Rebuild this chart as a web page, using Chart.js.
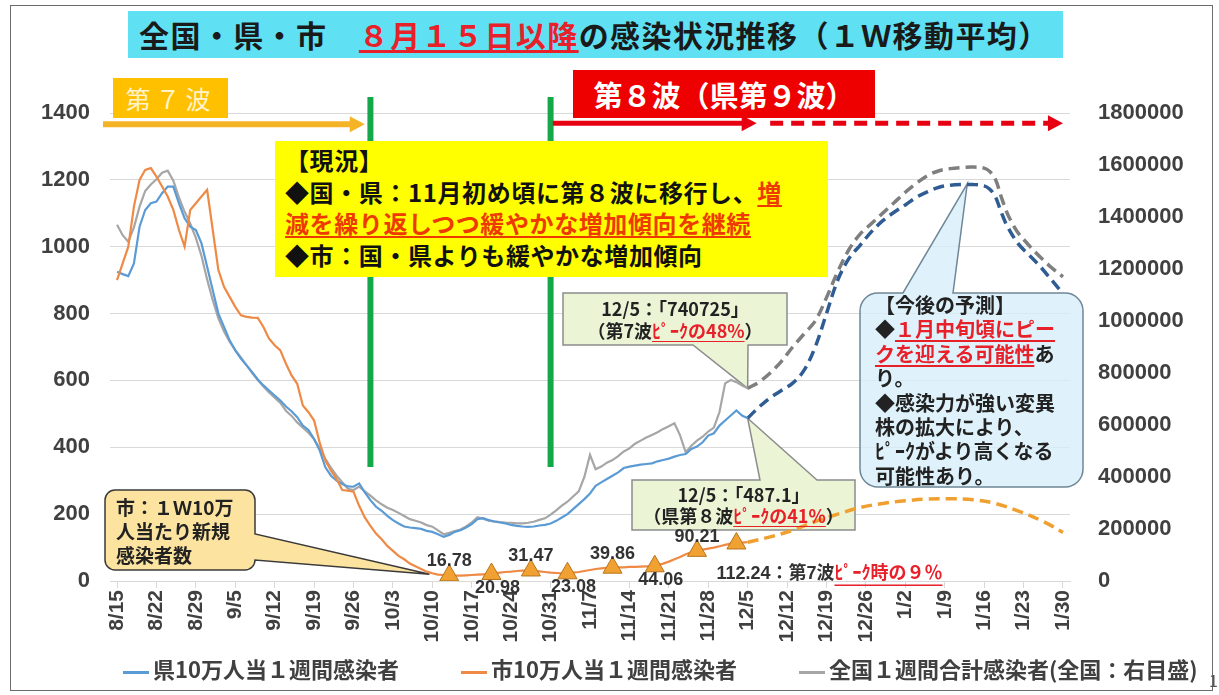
<!DOCTYPE html>
<html lang="ja">
<head>
<meta charset="utf-8">
<title>感染状況推移</title>
<script src="https://cdn.jsdelivr.net/npm/chart.js@4.4.1/dist/chart.umd.min.js"></script>
<style>
  body { margin: 0; background: #fff; }
  #wrap { position: relative; width: 1219px; height: 695px; overflow: hidden;
          font-family: "Noto Sans CJK JP", "Noto Sans", sans-serif; }
  #c { position: absolute; left: 0; top: 0; }
  .abs { position: absolute; box-sizing: border-box; }
  .red { color: #e8202a; text-decoration: underline; text-underline-offset: 3px; }
  .frame { left: 10px; top: 5px; width: 1203px; height: 686px; border: 1.5px solid #6b6b6b; }
  .title { left: 128px; top: 11px; width: 935px; height: 47px; background: #5fe1f3;
           font-size: 30px; font-weight: 700; line-height: 47px; padding-left: 11px; color: #1a1a1a;
           letter-spacing: 1.4px; white-space: nowrap; }
  .wave7 { left: 113px; top: 78px; width: 115px; height: 40px; background: #ffc000; color: #fff4cc;
           font-size: 25px; line-height: 40px; text-align: center; letter-spacing: 5px; }
  .wave8 { left: 573px; top: 70px; width: 302px; height: 48px; background: #ee0000; color: #fff;
           font-size: 29px; font-weight: 700; line-height: 48px; text-align: center; white-space: nowrap; }
  .now { left: 275px; top: 141px; width: 553px; height: 136px; background: #ffff00; color: #111;
         font-size: 24px; font-weight: 700; line-height: 31.5px; padding: 3px 0 0 10px; white-space: nowrap;
         letter-spacing: 0.6px; }
  .now .red { color: #ee3a00; }
  .txt { font-weight: 700; color: #222; white-space: nowrap; }
  .lg { top: 654px; font-size: 22px; font-weight: 700; color: #404040; line-height: 28px; white-space: nowrap; }
  .lg i { display: inline-block; width: 26px; height: 3px; vertical-align: middle; margin-right: 4px; }
</style>
</head>
<body>
<div id="wrap">
  <canvas id="c" width="1219" height="695"></canvas>
  <div class="abs frame"></div>
  <div class="abs title">全国・県・市　<span class="red">８月１５日以降</span>の感染状況推移（１Ｗ移動平均）</div>
  <div class="abs wave7">第７波</div>
  <div class="abs wave8">第８波（県第９波）</div>
  <div class="abs now">【現況】<br>◆国・県：11月初め頃に第８波に移行し、<span class="red">増</span><br><span class="red">減を繰り返しつつ緩やかな増加傾向を継続</span><br>◆市：国・県よりも緩やかな増加傾向</div>
  <div class="abs txt" id="t740">12/5：「740725」<br>（第7波<span class="red">ﾋﾟｰｸの48%</span>）</div>
  <div class="abs txt" id="t487">12/5：「487.1」<br>（県第８波<span class="red">ﾋﾟｰｸの41%</span>）</div>
  <div class="abs txt" id="tCity">市：１Ｗ10万<br>人当たり新規<br>感染者数</div>
  <div class="abs txt" id="tFore">【今後の予測】<br>◆<span class="red">１月中旬頃にピー</span><br><span class="red">クを迎える可能性</span>あ<br>り。<br>◆感染力が強い変異<br>株の拡大により、<br>ﾋﾟｰｸがより高くなる<br>可能性あり。</div>
  <div class="abs lg" style="left:123px"><i style="background:#5b9bd5"></i>県10万人当１週間感染者</div>
  <div class="abs lg" style="left:461px"><i style="background:#ee8a45"></i>市10万人当１週間感染者</div>
  <div class="abs lg" style="left:799px"><i style="background:#a6a6a6"></i>全国１週間合計感染者(全国：右目盛)</div>
  <div class="abs" style="left:1209px;top:668px;font-size:16px;color:#555">1</div>
</div>
<script>
// x: days since 8/15, tick every 7 days
const tickLabels = ['8/15','8/22','8/29','9/5','9/12','9/19','9/26','10/3','10/10','10/17','10/24','10/31',
  '11/7','11/14','11/21','11/28','12/5','12/12','12/19','12/26','1/2','1/9','1/16','1/23','1/30'];

// daily values from 8/15 (day 0) to 12/5 (day 112)
const prefWeekly = [925,918,912,950,1060,1110,1130,1135,1160,1180,1180,1130,1085,1060,1050,1010,940,870,800,760,
  720,690,665,645,625,603,585,570,555,540,522,508,490,465,452,425,390,340,315,300,
  290,283,282,292,265,242,222,210,195,182,172,163,160,158,156,150,147,140,132,138,
  147,152,160,170,185,188,182,178,175,172,168,165,163,162,163,166,168,172,180,190,
  200,215,230,245,262,285,295,305,315,325,338,342,345,348,350,352,358,362,366,372,
  377,380,395,402,415,435,442,465,480,495,510,495,487];
const cityWeekly = [900,950,1000,1120,1200,1230,1235,1210,1180,1150,1110,1050,1000,1110,1130,1150,1170,1050,930,880,
  850,820,795,790,788,787,760,725,705,690,650,615,590,525,505,480,413,360,330,305,
  272,270,267,225,190,165,142,125,105,90,75,65,52,44,36,28,23,19,18,17,
  16,16,17,18,19,20,21,23,25,27,28,30,31,31,31,29,27,25,24,23,
  23,25,27,30,33,36,38,39,40,41,41,42,42,43,44,44,47,52,58,65,
  72,80,86,90,94,97,100,104,108,112,114,115,116];
const nationalWeekly = [1370000,1330000,1305000,1360000,1440000,1500000,1525000,1545000,1570000,1578000,
  1540000,1475000,1420000,1375000,1320000,1250000,1160000,1080000,1010000,960000,
  920000,888000,860000,830000,800000,773000,748000,725000,705000,685000,
  655000,635000,610000,590000,570000,545000,510000,470000,435000,405000,
  380000,355000,350000,363000,345000,328000,310000,295000,282000,273000,
  262000,250000,238000,232000,225000,215000,209000,195000,180000,185000,
  192000,198000,210000,225000,245000,240000,232000,229000,227000,225000,
  224000,222000,222000,224000,228000,235000,241000,255000,272000,290000,
  305000,325000,345000,400000,485000,430000,440000,455000,465000,480000,
  498000,510000,528000,540000,552000,562000,572000,585000,595000,607000,
  560000,495000,520000,540000,555000,575000,590000,650000,760000,773000,
  765000,752000,741000];

// projections (dashed), day index and value
const prefForecastDays = [112,114,116,118,120,122,124,126,128,130,132,134,136,138,140,142,144,146,148,150,152,154,155,156,157,158,160,162,164,166,168];
const prefForecast = [487,520,548,570,592,630,700,800,900,965,1005,1045,1078,1103,1125,1148,1165,1178,1184,1186,1186,1182,1172,1150,1105,1065,1010,975,940,900,860];
const nationalForecastDays = [112,114,116,118,120,122,124,126,128,130,132,134,136,138,140,142,144,146,148,150,152,154,155,156,157,158,159,160,162,164,166,168];
const nationalForecast = [741000,765000,800000,845000,900000,950000,1000000,1090000,1190000,1275000,1335000,1375000,1415000,1455000,1495000,1530000,1560000,1578000,1586000,1590000,1592000,1588000,1575000,1545000,1480000,1420000,1375000,1340000,1290000,1245000,1205000,1170000];
const cityForecastDays = [112,116,120,124,128,132,136,140,144,148,152,156,160,164,166,168];
const cityForecast = [116,132,152,178,200,220,232,240,245,246,243,232,210,182,165,145];

// city weekly markers (triangles)
const markerDays = [59,66.5,73.5,80,88,95.5,103,110];
const markerValues = [16.78,20.98,31.47,23.08,39.86,44.06,90.21,112.24];

const daily = arr => arr.map((v, i) => ({x: i, y: v}));
const paired = (d, v) => d.map((x, i) => ({x: x, y: v[i]}));

// callout boxes (pixels) and where their tails point (data)
const callouts = {
  city: {x: 105, y: 490, w: 150, h: 80, r: 10, fill: '#fce4a0', stroke: '#3a3a3a', side: 'right', a: 534, c: 560, tip: [55.5, 20, 'y']},
  c740: {x: 563, y: 293, w: 224, h: 52, r: 0, fill: '#ebf5d6', stroke: '#8c8c8c', side: 'bottom', a: 693, c: 748, tip: [112, 741000, 'y2']},
  c487: {x: 632, y: 480, w: 223, h: 50, r: 0, fill: '#ebf5d6', stroke: '#8c8c8c', side: 'top', a: 760, c: 817, tip: [112, 487, 'y']},
  fore: {x: 860, y: 293, w: 223, h: 194, r: 18, fill: 'rgba(214,238,250,0.78)', stroke: '#6f8796', side: 'top', a: 903, c: 953, tip: [151, 1188, 'y']}
};

function calloutPath(ctx, b, tip) {
  const x0 = b.x, y0 = b.y, x1 = b.x + b.w, y1 = b.y + b.h, r = b.r;
  ctx.beginPath();
  ctx.moveTo(x0 + r, y0);
  if (b.side === 'top') { ctx.lineTo(b.a, y0); ctx.lineTo(tip.x, tip.y); ctx.lineTo(b.c, y0); }
  ctx.arcTo(x1, y0, x1, y1, r);
  if (b.side === 'right') { ctx.lineTo(x1, b.a); ctx.lineTo(tip.x, tip.y); ctx.lineTo(x1, b.c); }
  ctx.arcTo(x1, y1, x0, y1, r);
  if (b.side === 'bottom') { ctx.lineTo(b.c, y1); ctx.lineTo(tip.x, tip.y); ctx.lineTo(b.a, y1); }
  ctx.arcTo(x0, y1, x0, y0, r);
  ctx.arcTo(x0, y0, x1, y0, r);
  ctx.closePath();
}

function arrow(ctx, x0, x1, yy, color, width, dash) {
  ctx.save();
  ctx.strokeStyle = color; ctx.fillStyle = color; ctx.lineWidth = width;
  ctx.setLineDash(dash || []);
  ctx.beginPath(); ctx.moveTo(x0, yy); ctx.lineTo(x1 - 12, yy); ctx.stroke();
  ctx.setLineDash([]);
  ctx.beginPath(); ctx.moveTo(x1, yy); ctx.lineTo(x1 - 15, yy - 8); ctx.lineTo(x1 - 15, yy + 8); ctx.closePath(); ctx.fill();
  ctx.restore();
}

const overlays = {
  id: 'overlays',
  beforeDatasetsDraw(chart) {
    const ctx = chart.ctx, s = chart.scales;
    Object.values(callouts).forEach(b => {
      const tip = {x: s.x.getPixelForValue(b.tip[0]), y: s[b.tip[2]].getPixelForValue(b.tip[1])};
      ctx.save();
      calloutPath(ctx, b, tip);
      ctx.fillStyle = b.fill; ctx.fill();
      ctx.lineWidth = 1.5; ctx.strokeStyle = b.stroke; ctx.stroke();
      ctx.restore();
    });
  },
  afterDatasetsDraw(chart) {
    const ctx = chart.ctx, {x, y} = chart.scales;
    // green markers for wave change
    ctx.save();
    ctx.strokeStyle = '#15a84b'; ctx.lineWidth = 6;
    [45, 77].forEach(d => {
      ctx.beginPath();
      ctx.moveTo(x.getPixelForValue(d), y.getPixelForValue(1448));
      ctx.lineTo(x.getPixelForValue(d), y.getPixelForValue(341));
      ctx.stroke();
    });
    ctx.restore();
    const ay = y.getPixelForValue(1366);
    arrow(ctx, x.getPixelForValue(-2.5), x.getPixelForValue(44), ay, '#f5b326', 6);
    arrow(ctx, x.getPixelForValue(77.4), x.getPixelForValue(113.6), ay - 1, '#e60012', 5);
    arrow(ctx, x.getPixelForValue(116), x.getPixelForValue(168), ay - 1, '#e60012', 5, [13, 8]);

    // marker value labels
    const pts = chart.getDatasetMeta(0).data;
    ctx.save();
    ctx.font = 'bold 18px "Liberation Sans", "Noto Sans CJK JP", sans-serif';
    ctx.fillStyle = '#333';
    ctx.textBaseline = 'middle';
    pts.forEach((p, i) => {
      const label = markerValues[i].toFixed(2);
      if (i === pts.length - 1) {
        ctx.textAlign = 'left';
        const lx = p.x - 20, ly = p.y + 31;
        const head = label + '：第7波';
        ctx.fillText(head, lx, ly);
        const w = ctx.measureText(head).width;
        ctx.fillStyle = '#e8202a';
        const tail = 'ﾋﾟｰｸ時の９％';
        ctx.fillText(tail, lx + w, ly);
        ctx.fillRect(lx + w, ly + 10, ctx.measureText(tail).width, 1.5);
      } else {
        ctx.textAlign = 'center';
        ctx.fillText(label, p.x + (i % 2 ? 6 : 0), i % 2 ? p.y + 14 : p.y - 14);
      }
    });
    ctx.restore();
  }
};

const tickFont = {family: '"Liberation Sans", Arial, sans-serif', size: 22, weight: 'bold'};

new Chart(document.getElementById('c'), {
  type: 'line',
  data: {
    datasets: [
      {label: '市週次', data: paired(markerDays, markerValues), showLine: false, pointStyle: 'triangle',
       pointRadius: 11, backgroundColor: '#f0a132', borderColor: '#b8741c', borderWidth: 1, order: 0},
      {label: '県10万人当１週間感染者', data: daily(prefWeekly), borderColor: '#5b9bd5', borderWidth: 2.2, pointRadius: 0, order: 2},
      {label: '市10万人当１週間感染者', data: daily(cityWeekly), borderColor: '#ee8a45', borderWidth: 2.2, pointRadius: 0, order: 1},
      {label: '全国１週間合計感染者(全国：右目盛)', data: daily(nationalWeekly), yAxisID: 'y2', borderColor: '#a6a6a6', borderWidth: 2.2, pointRadius: 0, order: 3},
      {label: '県予測', data: paired(prefForecastDays, prefForecast), borderColor: '#2e5c93', borderWidth: 3.5,
       borderDash: [11, 6], pointRadius: 0, tension: 0.35, order: 4},
      {label: '全国予測', data: paired(nationalForecastDays, nationalForecast), yAxisID: 'y2', borderColor: '#7f7f7f',
       borderWidth: 3.5, borderDash: [11, 6], pointRadius: 0, tension: 0.35, order: 5},
      {label: '市予測', data: paired(cityForecastDays, cityForecast), borderColor: '#f0a030', borderWidth: 3.5,
       borderDash: [11, 6], pointRadius: 0, tension: 0.35, order: 1}
    ]
  },
  options: {
    responsive: false,
    animation: false,
    layout: {padding: {top: 113, left: 0, right: 0, bottom: 0}},
    plugins: {legend: {display: false}, tooltip: {enabled: false}},
    scales: {
      x: {
        type: 'linear', min: -1.25, max: 169.25,
        afterBuildTicks: s => { s.ticks = tickLabels.map((_, i) => ({value: i * 7})); },
        afterFit: s => { s.height = 114; },
        ticks: {callback: v => tickLabels[v / 7], autoSkip: false, minRotation: 90, maxRotation: 90, padding: 2,
                color: '#404040', font: {family: tickFont.family, size: 21, weight: 'bold'}},
        grid: {drawOnChartArea: false, tickLength: 7, color: '#d9d9d9'},
        border: {color: '#d9d9d9'}
      },
      y: {
        position: 'left', min: 0, max: 1400,
        afterFit: s => { s.width = 110; },
        ticks: {stepSize: 200, padding: 20, color: '#404040', font: tickFont, callback: v => String(v)},
        grid: {color: '#d9d9d9', drawTicks: false},
        border: {display: false}
      },
      y2: {
        position: 'right', min: 0, max: 1800000,
        afterFit: s => { s.width = 149; },
        ticks: {stepSize: 200000, padding: 20, color: '#404040', font: tickFont, callback: v => String(v)},
        grid: {display: false},
        border: {display: false}
      }
    }
  },
  plugins: [overlays]
});

// text inside callouts
function place(id, b, css) {
  const el = document.getElementById(id);
  Object.assign(el.style, {left: b.x + 'px', top: b.y + 'px', width: b.w + 'px', height: b.h + 'px'}, css);
}
place('t740', callouts.c740, {fontSize: '18px', lineHeight: '22px', textAlign: 'center', paddingTop: '4px'});
place('t487', callouts.c487, {fontSize: '18px', lineHeight: '21px', textAlign: 'center', paddingTop: '4px'});
place('tCity', callouts.city, {fontSize: '19px', lineHeight: '24px', paddingLeft: '11px', paddingTop: '5px'});
place('tFore', callouts.fore, {fontSize: '20px', lineHeight: '24.4px', paddingLeft: '15px', paddingTop: '0px'});
</script>
</body>
</html>
